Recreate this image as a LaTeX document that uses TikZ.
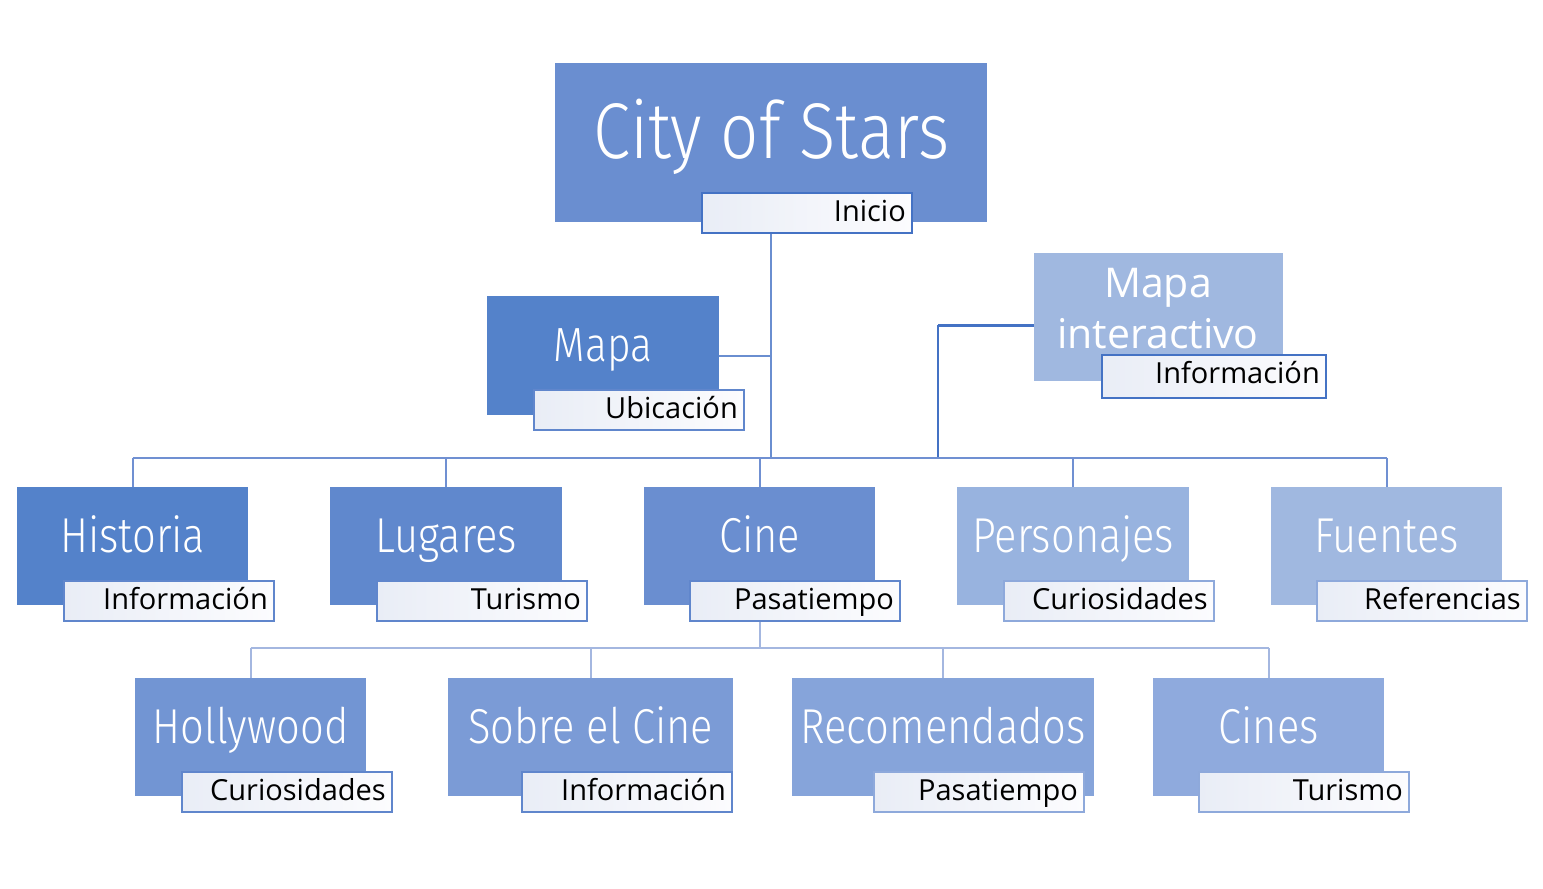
\documentclass[tikz,border=0pt]{standalone}
\usepackage{fontspec}
\setmainfont{Open Sans}
\newfontfamily\lightfont[FakeStretch=0.85]{Fira Sans Light}

\definecolor{cRoot}{RGB}{106,142,208}
\definecolor{cDark}{RGB}{84,130,202}
\definecolor{cLug}{RGB}{96,136,205}
\definecolor{cPers}{RGB}{152,179,223}
\definecolor{cPale}{RGB}{160,184,224}
\definecolor{cHoll}{RGB}{114,149,211}
\definecolor{cSobre}{RGB}{123,155,214}
\definecolor{cRecom}{RGB}{134,164,218}
\definecolor{cCines}{RGB}{143,170,221}
\definecolor{bdDark}{RGB}{68,114,196}
\definecolor{bdMid}{RGB}{96,134,204}
\definecolor{bdLight}{RGB}{142,169,219}
\definecolor{tagL}{RGB}{233,237,246}
\definecolor{tagR}{RGB}{252,252,254}
\definecolor{lnMain}{RGB}{106,142,208}
\definecolor{lnBus}{RGB}{112,144,210}
\definecolor{lnSub}{RGB}{164,183,224}

\pgfdeclarelayer{wires}
\pgfsetlayers{wires,main}

\tikzset{
  box/.style={rectangle, inner sep=0pt, anchor=north west, text=white,
    font=\lightfont\fontsize{49}{49}\selectfont,
    minimum width=231pt, minimum height=118pt,
    text height=65pt, text depth=53pt},
  tag/.style={rectangle, line width=1.6pt, inner xsep=6pt, inner ysep=0pt,
    anchor=north west, text width=198pt, align=right,
    text height=29pt, text depth=11pt, text=black,
    left color=tagL, right color=tagR,
    font=\fontsize{29}{29}\selectfont},
  conn/.style={line width=2pt, draw=lnMain},
  bus/.style={line width=2.4pt, draw=lnBus},
  subconn/.style={line width=2pt, draw=lnSub},
}

\begin{document}
\begin{tikzpicture}[x=1pt, y=-1pt]
\useasboundingbox (0,0) rectangle (1543,889);

% top of the tree
\node[box, fill=cRoot, minimum width=432pt, minimum height=159pt,
      text height=95pt, text depth=64pt,
      font=\lightfont\fontsize{79}{79}\selectfont] (root) at (555,63) {City of Stars};
\node[tag, draw=bdDark] (rootT) at (701,192) {Inicio};

% side pages
\node[box, fill=cDark, minimum width=232pt, minimum height=119pt,
      text height=65pt, text depth=54pt,
      font=\lightfont\fontsize{48}{48}\selectfont] (mapa) at (487,296) {Mapa};
\node[tag, draw=bdMid] (mapaT) at (533,389) {Ubicación};

\node[box, fill=cPale, minimum width=249pt, minimum height=128pt,
      text height=0pt, text depth=0pt] (mint) at (1034,253) {};
\node[anchor=base, inner sep=0pt, text=white, font=\fontsize{41}{41}\selectfont]
      (mintA) at (1158,297) {Mapa};
\node[anchor=base, inner sep=0pt, text=white, font=\fontsize{41}{41}\selectfont]
      (mintB) at (1158,348) {interactivo};
\node[tag, draw=bdDark, text width=212pt, text depth=14pt] (mintT) at (1101,354) {Información};

% second level
\node[box, fill=cDark] (hist) at (17,487) {Historia};
\node[tag, draw=bdMid] (histT) at (63,580) {Información};
\node[box, fill=cLug, minimum width=232pt] (lug) at (330,487) {Lugares};
\node[tag, draw=bdMid] (lugT) at (376,580) {Turismo};
\node[box, fill=cRoot] (cine) at (644,487) {Cine};
\node[tag, draw=bdMid] (cineT) at (689,580) {Pasatiempo};
\node[box, fill=cPers, minimum width=232pt] (pers) at (957,487) {Personajes};
\node[tag, draw=bdLight] (persT) at (1003,580) {Curiosidades};
\node[box, fill=cPale] (fuen) at (1271,487) {Fuentes};
\node[tag, draw=bdLight] (fuenT) at (1316,580) {Referencias};

% third level, under Cine
\node[box, fill=cHoll] (holl) at (135,678) {Hollywood};
\node[tag, draw=bdMid] (hollT) at (181,771) {Curiosidades};
\node[box, fill=cSobre, minimum width=285pt] (sobre) at (448,678) {Sobre el Cine};
\node[tag, draw=bdMid] (sobreT) at (521,771) {Información};
\node[box, fill=cRecom, minimum width=302pt] (recom) at (792,678) {Recomendados};
\node[tag, draw=bdLight] (recomT) at (873,771) {Pasatiempo};
\node[box, fill=cCines] (cines) at (1153,678) {Cines};
\node[tag, draw=bdLight] (cinesT) at (1198,771) {Turismo};

% junction points of the connectors
\coordinate (busA) at (0,458);
\coordinate (busB) at (0,648);
\coordinate (mj) at (938,458);

\begin{pgfonlayer}{wires}
  % trunk from the title down to the main bus
  \draw[conn] (root.south |- rootT.south) -- (root.south |- busA);
  \draw[conn] (mapa.east) -- (mapa.east -| root.south);
  \draw[line width=3pt, draw=bdDark] ([yshift=-8pt]mint.west) -- ([yshift=-8pt]mint.west -| mj);
  \draw[line width=1.6pt, draw=bdDark] ([yshift=-8pt]mint.west -| mj) -- (mj);
  % main bus and drops
  \draw[bus] (busA -| hist.north) -- (busA -| fuen.north);
  \foreach \n in {hist,lug,cine,pers,fuen}
    \draw[bus] (busA -| \n.north) -- (\n.north);
  % sub bus under Cine
  \draw[subconn] (cine.south |- cineT.south) -- (cine.south |- busB);
  \draw[subconn] (busB -| holl.north) -- (busB -| cines.north);
  \foreach \n in {holl,sobre,recom,cines}
    \draw[subconn] (busB -| \n.north) -- (\n.north);
\end{pgfonlayer}
\end{tikzpicture}
\end{document}
